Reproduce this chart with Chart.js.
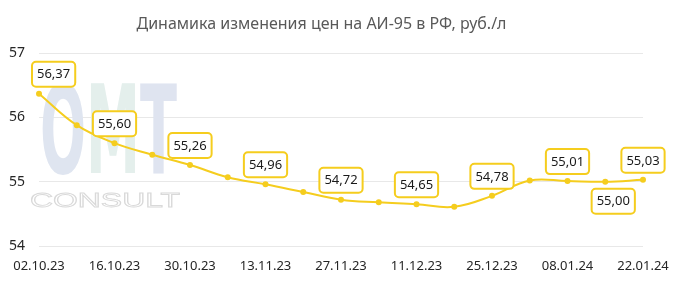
<!DOCTYPE html>
<html>
<head>
<meta charset="utf-8">
<script src="https://cdn.jsdelivr.net/npm/chart.js@4/dist/chart.umd.min.js"></script>
<style>
  html, body { margin: 0; padding: 0; background: #fff; }
  #wrap { width: 682px; height: 282px; }
</style>
</head>
<body>
<div id="wrap"><canvas id="c" width="682" height="282"></canvas></div>
<script>
// Weekly dates (Mondays)
const dates = ['02.10.23','09.10.23','16.10.23','23.10.23','30.10.23','06.11.23','13.11.23','20.11.23',
               '27.11.23','04.12.23','11.12.23','18.12.23','25.12.23','01.01.24','08.01.24','15.01.24','22.01.24'];
// AI-95 retail price, rub/l
const prices = [56.37, 55.88, 55.60, 55.42, 55.26, 55.07, 54.96, 54.84,
                54.72, 54.68, 54.65, 54.61, 54.78, 55.02, 55.01, 55.00, 55.03];
// Points that carry a value callout
const labeledPoints = [0, 2, 4, 6, 8, 10, 12, 14, 15, 16];
const yTicks = [54, 55, 56, 57];

const YELLOW = '#f5cd1e';
const FONT = '"Noto Sans", "Open Sans", sans-serif';

// Callouts placed under the line instead of above
const calloutBelow = new Set([15]);

const watermark = {
  id: 'watermark',
  beforeDatasetsDraw(chart) {
    const ctx = chart.ctx;
    ctx.save();
    // "OMT" block letters
    const letters = [['O', '#dfe5f0'], ['M', '#e4efec'], ['T', '#dfe4f0']];
    ctx.font = 'bold 100px "DejaVu Sans Condensed", "Liberation Sans Narrow", sans-serif';
    const boxX = 40, boxW = 137, boxTop = 83, boxH = 90;
    const total = letters.reduce((s, l) => s + ctx.measureText(l[0]).width, 0);
    const sx = boxW / total, sy = boxH / 73;
    ctx.translate(boxX, boxTop + boxH);
    ctx.scale(sx, sy);
    let x = 0;
    ctx.textBaseline = 'alphabetic';
    for (const [ch, col] of letters) {
      ctx.fillStyle = col;
      ctx.fillText(ch, x, 0);
      x += ctx.measureText(ch).width;
    }
    ctx.restore();

    // outlined "CONSULT" underneath
    ctx.save();
    ctx.font = '21px "Liberation Sans", Arial, sans-serif';
    const word = 'CONSULT';
    const w = ctx.measureText(word).width;
    ctx.translate(30, 207);
    ctx.scale(150 / w, 1);
    ctx.strokeStyle = '#d9d9d9';
    ctx.lineWidth = 0.9;
    ctx.strokeText(word, 0, 0);
    ctx.restore();
  }
};

const callouts = {
  id: 'callouts',
  afterDatasetsDraw(chart) {
    const ctx = chart.ctx;
    const meta = chart.getDatasetMeta(0);
    const area = chart.chartArea;
    ctx.save();
    ctx.font = '13px ' + FONT;
    ctx.textAlign = 'center';
    ctx.textBaseline = 'middle';
    for (const i of labeledPoints) {
      const pt = meta.data[i];
      const text = prices[i].toFixed(2).replace('.', ',');
      const w = ctx.measureText(text).width + 10;
      const h = 25;
      let cx = pt.x;
      if (cx - w / 2 < area.left - 7) cx = area.left - 7 + w / 2;
      if (calloutBelow.has(i)) cx += 8;
      const top = calloutBelow.has(i) ? pt.y + 7 : pt.y - 7 - h;
      ctx.beginPath();
      ctx.roundRect(cx - w / 2, top, w, h, 4);
      ctx.fillStyle = '#ffffff';
      ctx.fill();
      ctx.lineWidth = 2;
      ctx.strokeStyle = YELLOW;
      ctx.stroke();
      ctx.fillStyle = '#1a1a1a';
      ctx.fillText(text, cx, top + h / 2 + 0.5);
    }
    ctx.restore();
  }
};

new Chart(document.getElementById('c'), {
  type: 'line',
  data: {
    labels: dates,
    datasets: [{
      data: prices,
      borderColor: YELLOW,
      backgroundColor: YELLOW,
      borderWidth: 2,
      tension: 0.4,
      pointRadius: 3,
      pointHoverRadius: 3,
      pointBorderWidth: 0,
      clip: false
    }]
  },
  options: {
    responsive: false,
    animation: false,
    events: [],
    layout: { padding: { left: 0, right: 39, top: 0, bottom: 0 } },
    plugins: {
      legend: { display: false },
      tooltip: { enabled: false },
      title: {
        display: true,
        text: 'Динамика изменения цен на АИ-95 в РФ, руб./л',
        color: '#595959',
        font: { family: FONT, size: 16, weight: 'normal' },
        padding: { top: 15, bottom: 19 }
      }
    },
    scales: {
      x: {
        grid: { display: false, drawTicks: false },
        border: { display: false },
        ticks: {
          autoSkip: false,
          maxRotation: 0,
          padding: 12,
          color: '#262626',
          font: { family: FONT, size: 13 },
          callback: (v, i) => (i % 2 === 0 ? dates[i] : '')
        },
        afterFit: (s) => { s.height = 36; }
      },
      y: {
        min: 54,
        max: 57,
        afterBuildTicks: (s) => { s.ticks = yTicks.map(v => ({ value: v })); },
        grid: { color: '#e8e8e8', drawTicks: false, lineWidth: 1 },
        border: { display: false },
        ticks: {
          padding: 14,
          color: '#262626',
          font: { family: FONT, size: 14 }
        },
        afterFit: (s) => { s.width = 39; }
      }
    }
  },
  plugins: [watermark, callouts]
});
</script>
</body>
</html>
